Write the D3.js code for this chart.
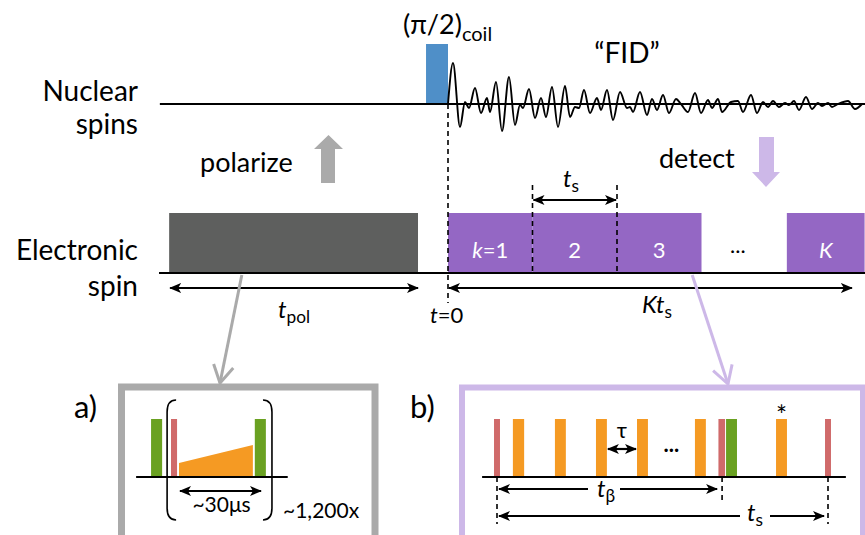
<!DOCTYPE html>
<html>
<head>
<meta charset="utf-8">
<script src="https://cdn.jsdelivr.net/npm/d3@7"></script>
<style>
  body { margin: 0; background: #fff; }
  svg { display: block; font-family: Lato, "Open Sans", sans-serif; }
</style>
</head>
<body>
<svg id="fig" width="865" height="535"></svg>
<script>
// ---- data ----
// main timeline, time in units of t_s (t=0 = start of detection)
var blockStart = [-3.3, 0, 1, 2, 4.01];
var blockEnd   = [-0.355, 1, 2, 3, 4.93];
var blockKind  = ["pol", "det", "det", "det", "det"];
var blockLabel = ["", "k|=1", "2", "3", "K|"];
var coilPulse  = [-0.26, 0];          // (pi/2) coil pulse
var coilAmp    = 60;

// FID trace (a.u.): time after t=0, signal
var fidT = [0, 5, 12, 17, 21, 27, 33, 39, 42, 48, 54, 61, 67, 72, 75, 81, 87, 93, 98, 104,
            110, 117, 122, 127, 131, 136, 142, 149, 153, 159, 165, 172, 179, 182, 185, 192,
            199, 204, 209, 215, 221, 228, 233, 240, 247, 253, 260, 264, 270, 274, 283, 290,
            295, 303, 309, 315, 320, 325, 331, 337, 341, 346, 351, 358, 364, 370, 374, 380,
            384, 390, 400, 407, 414];
var fidA = [0, 41, -23, 2, -4, 16, -9, 6, -8, 22, -27, 27, -21, -1, -4, 15, -14, 6, -13, 17,
            -23, 18, -13, -3, -4, 14, -9, 6, -6, 14, -16, 12, -4, -3, -8, 12,
            -11, 5, -6, 9, -9, 5, 0, -8, 11, -9, 4, -4, 5, -8, 2, 3,
            -8, 9, -9, 2, -3, 3, -3, 1, -1, 3, -6, 7, -5, 1, -2, 1,
            -3, 0, 3, -5, 0];

// panel a, time in microseconds
var aStart = [-10.1, -2.9, 0, 27.4];
var aEnd   = [-6.1, -0.7, 26.7, 31.4];
var aKind  = ["green", "red", "orange", "green"];
var aAmpL  = [1, 1, 0.24, 1];
var aAmpR  = [1, 1, 0.55, 1];
var aSpan  = 30;

// panel b, time in % of t_s
var bStart = [-0.9, 4.8, 17.5, 29.9, 42.3, 59.8, 66.9, 69.2, 84.3, 99.1];
var bEnd   = [0.9, 8.2, 20.8, 33.2, 45.6, 63.1, 68.9, 72.5, 87.6, 100.9];
var bKind  = ["red", "orange", "orange", "orange", "orange", "orange", "red", "green", "orange", "red"];
var bStar  = 8;
var tBeta  = 68;
var tS     = 100;

var colors = {
  pol: "#5e5f5e", det: "#9467c4", coil: "#4f8fc8",
  green: "#6aa121", red: "#d06a6a", orange: "#f59a23",
  grey: "#aaaaaa", lilac: "#cdb8e8"
};

var svg = d3.select("#fig");

svg.append("defs").append("marker")
  .attr("id", "head")
  .attr("viewBox", "0 0 12 10")
  .attr("refX", 11).attr("refY", 5)
  .attr("markerWidth", 12).attr("markerHeight", 10)
  .attr("markerUnits", "userSpaceOnUse")
  .attr("orient", "auto-start-reverse")
  .append("path")
  .attr("d", "M0,0 L12,5 L0,10 L3,5 Z")
  .attr("fill", "#000");

function arrow(x1, y1, x2, y2, start, end) {
  var l = svg.append("line")
    .attr("x1", x1).attr("y1", y1).attr("x2", x2).attr("y2", y2)
    .attr("stroke", "#000").attr("stroke-width", 2.2);
  if (start) l.attr("marker-start", "url(#head)");
  if (end) l.attr("marker-end", "url(#head)");
}
function dashed(x, y1, y2) {
  svg.append("line")
    .attr("x1", x).attr("x2", x).attr("y1", y1).attr("y2", y2)
    .attr("stroke", "#000").attr("stroke-width", 1.6)
    .attr("stroke-dasharray", "5,4");
}
// text with italic "t" + subscript
function tLabel(x, y, pre, sub, size) {
  var t = svg.append("text").attr("x", x).attr("y", y).attr("font-size", size);
  if (pre) t.append("tspan").attr("font-style", "italic").text(pre);
  t.append("tspan").attr("font-style", "italic").text("t");
  t.append("tspan").attr("font-size", size * 0.72).attr("dy", 5).text(sub);
  return t;
}

// ---- main scales ----
var x = d3.scaleLinear().domain([0, 1]).range([448, 532.5]);
var yE = d3.scaleLinear().domain([0, 1]).range([273, 213]);
var yN = d3.scaleLinear().domain([-60, 60]).range([164, 44]);
var fidX = d3.scaleLinear().domain([0, 414]).range([x(0), x(0) + 414]);

// row labels
[["Nuclear", 101], ["spins", 134], ["Electronic", 260], ["spin", 296]].forEach(function (d) {
  svg.append("text").attr("x", 138).attr("y", d[1]).attr("text-anchor", "end")
    .attr("font-size", 28).text(d[0]);
});

// coil pulse
svg.append("rect")
  .attr("x", x(coilPulse[0])).attr("width", x(coilPulse[1]) - x(coilPulse[0]))
  .attr("y", yN(coilAmp)).attr("height", yN(0) - yN(coilAmp))
  .attr("fill", colors.coil);

// FID
var fidData = fidT.map(function (t, i) { return [t, fidA[i]]; });
svg.append("path")
  .datum(fidData)
  .attr("fill", "none").attr("stroke", "#000").attr("stroke-width", 1.9)
  .attr("d", d3.line()
    .x(function (d) { return fidX(d[0]); })
    .y(function (d) { return yN(d[1]); })
    .curve(d3.curveMonotoneX));

// baselines
svg.append("line").attr("x1", x(-3.41)).attr("x2", 865).attr("y1", yN(0)).attr("y2", yN(0))
  .attr("stroke", "#000").attr("stroke-width", 2.2);

// blocks
svg.selectAll("rect.block").data(blockStart).enter().append("rect")
  .attr("class", "block")
  .attr("x", function (d) { return x(d); })
  .attr("width", function (d, i) { return x(blockEnd[i]) - x(d); })
  .attr("y", yE(1)).attr("height", yE(0) - yE(1))
  .attr("fill", function (d, i) { return colors[blockKind[i]]; });

svg.append("line").attr("x1", x(-3.42)).attr("x2", 865).attr("y1", yE(0)).attr("y2", yE(0))
  .attr("stroke", "#000").attr("stroke-width", 2.2);

blockLabel.forEach(function (lab, i) {
  if (!lab) return;
  var parts = lab.split("|");
  var t = svg.append("text")
    .attr("x", (x(blockStart[i]) + x(blockEnd[i])) / 2)
    .attr("y", 258).attr("text-anchor", "middle")
    .attr("font-size", 22).attr("fill", "#fff");
  if (parts.length > 1) {
    t.append("tspan").attr("font-style", "italic").text(parts[0]);
    t.append("tspan").text(parts[1]);
  } else t.text(lab);
});
svg.append("text").attr("x", x(3.43)).attr("y", 253).attr("text-anchor", "middle")
  .attr("font-size", 22).text("...");

// dashed markers
dashed(x(0), yN(0), 303);
dashed(x(1), 185, yE(0));
dashed(x(2), 185, yE(0));

// t_s arrow above blocks
arrow(x(1) + 1, 200, x(2) - 1, 200, true, true);
tLabel(563, 187, "", "s", 24);

// t_pol and Kt_s arrows
arrow(x(blockStart[0]) + 1, 288, x(blockEnd[0]), 288, true, true);
tLabel(278, 318, "", "pol", 24);
arrow(x(0) + 1, 288, x(4.78), 288, true, true);
tLabel(642, 313, "K", "s", 24);

var t0 = svg.append("text").attr("x", 430).attr("y", 323).attr("font-size", 22);
t0.append("tspan").attr("font-style", "italic").text("t");
t0.append("tspan").text("=0");

// headings
var coil = svg.append("text").attr("x", 403).attr("y", 34).attr("font-size", 27);
coil.append("tspan").text("(\u03c0/2)");
coil.append("tspan").attr("font-size", 20).attr("dy", 7).text("coil");
svg.append("text").attr("x", 627).attr("y", 63).attr("text-anchor", "middle")
  .attr("font-size", 28).text("\u201cFID\u201d");
svg.append("text").attr("x", 200).attr("y", 172).attr("font-size", 27).text("polarize");
svg.append("text").attr("x", 659).attr("y", 168).attr("font-size", 27).text("detect");

// big block arrows
svg.append("path").attr("fill", colors.grey)
  .attr("d", "M321,183 L321,149 L314,149 L328.5,135 L343,149 L335,149 L335,183 Z");
svg.append("path").attr("fill", colors.lilac)
  .attr("d", "M759,137 L759,172 L752,172 L766,187 L780,172 L774,172 L774,137 Z");

// connector lines with open heads
function connector(x1, y1, x2, y2, col) {
  svg.append("line").attr("x1", x1).attr("y1", y1).attr("x2", x2).attr("y2", y2)
    .attr("stroke", col).attr("stroke-width", 3);
  var a = Math.atan2(y2 - y1, x2 - x1), L = 20, s = Math.PI / 6;
  svg.append("polyline")
    .attr("points", [
      [x2 - L * Math.cos(a - s), y2 - L * Math.sin(a - s)],
      [x2, y2],
      [x2 - L * Math.cos(a + s), y2 - L * Math.sin(a + s)]
    ].map(function (p) { return p.join(","); }).join(" "))
    .attr("fill", "none").attr("stroke", col).attr("stroke-width", 3);
}
connector(x(-2.44), yE(0) + 2, 220, 383, colors.grey);
connector(x(2.89), yE(0) + 2, 728, 384, colors.lilac);

// ---- panel boxes ----
svg.append("rect").attr("x", 121.5).attr("y", 387).attr("width", 253.5).attr("height", 200)
  .attr("fill", "none").attr("stroke", colors.grey).attr("stroke-width", 7);
svg.append("rect").attr("x", 462).attr("y", 387.5).attr("width", 401).attr("height", 200)
  .attr("fill", "none").attr("stroke", colors.lilac).attr("stroke-width", 6);
svg.append("text").attr("x", 74).attr("y", 418).attr("font-size", 31).text("a)");
svg.append("text").attr("x", 410).attr("y", 418).attr("font-size", 31).text("b)");

// ---- panel a ----
var ax = d3.scaleLinear().domain([0, aSpan]).range([179, 262]);
var ay = d3.scaleLinear().domain([0, 1]).range([477, 419]);

svg.selectAll("path.apulse").data(aStart).enter().append("path")
  .attr("class", "apulse")
  .attr("fill", function (d, i) { return colors[aKind[i]]; })
  .attr("d", function (d, i) {
    return "M" + ax(d) + "," + ay(0) + "L" + ax(d) + "," + ay(aAmpL[i]) +
      "L" + ax(aEnd[i]) + "," + ay(aAmpR[i]) + "L" + ax(aEnd[i]) + "," + ay(0) + "Z";
  });
svg.append("line").attr("x1", ax(-15.5)).attr("x2", ax(39.3)).attr("y1", ay(0)).attr("y2", ay(0))
  .attr("stroke", "#000").attr("stroke-width", 2);

// brackets
function paren(px, dir) {
  var top = 400, bot = 520, c = 9 * dir;
  svg.append("path").attr("fill", "none").attr("stroke", "#000").attr("stroke-width", 1.6)
    .attr("d", "M" + (px + c) + "," + top + " Q" + px + "," + top + " " + px + "," + (top + 12) +
      " L" + px + "," + (bot - 12) + " Q" + px + "," + bot + " " + (px + c) + "," + bot);
}
paren(ax(-4.3), 1);
paren(ax(33.6), -1);

arrow(ax(0) + 1, 491, ax(aSpan) - 1, 491, true, true);
svg.append("text").attr("x", ax(aSpan / 2) + 1).attr("y", 512).attr("text-anchor", "middle")
  .attr("font-size", 21).text("~30\u03bcs");
svg.append("text").attr("x", 283).attr("y", 518).attr("font-size", 21).text("~1,200x");

// ---- panel b ----
var bx = d3.scaleLinear().domain([0, tS]).range([497, 828]);
var by = d3.scaleLinear().domain([0, 1]).range([477, 419]);

svg.selectAll("rect.bpulse").data(bStart).enter().append("rect")
  .attr("class", "bpulse")
  .attr("x", function (d) { return bx(d); })
  .attr("width", function (d, i) { return bx(bEnd[i]) - bx(d); })
  .attr("y", by(1)).attr("height", by(0) - by(1))
  .attr("fill", function (d, i) { return colors[bKind[i]]; });
svg.append("line").attr("x1", bx(-4.5)).attr("x2", bx(105.4)).attr("y1", by(0)).attr("y2", by(0))
  .attr("stroke", "#000").attr("stroke-width", 2);

svg.append("text").attr("x", (bx(bStart[bStar]) + bx(bEnd[bStar])) / 2).attr("y", 425)
  .attr("text-anchor", "middle").attr("font-size", 26).text("*");

// tau
arrow(bx(bEnd[3]) + 1, 449, bx(bStart[4]) - 1, 449, true, true);
svg.append("text").attr("x", (bx(bEnd[3]) + bx(bStart[4])) / 2).attr("y", 438)
  .attr("text-anchor", "middle").attr("font-size", 22).text("\u03c4");
svg.append("text").attr("x", (bx(bEnd[4]) + bx(bStart[5])) / 2).attr("y", 452)
  .attr("text-anchor", "middle").attr("font-size", 22).attr("font-weight", "bold").text("...");

dashed(bx(0), by(0), 524);
dashed(bx(tBeta), by(0), 502);
dashed(bx(tS), by(0), 524);

// t_beta arrow with label gap
arrow(bx(0) + 2, 489, 588, 489, true, false);
arrow(620, 489, bx(tBeta) - 5, 489, false, true);
tLabel(597, 497, "", "\u03b2", 24);

// t_s arrow with label gap
arrow(bx(0) + 2, 516, 740, 516, true, false);
arrow(770, 516, bx(tS) - 4, 516, false, true);
tLabel(747, 521, "", "s", 24);
</script>
</body>
</html>
